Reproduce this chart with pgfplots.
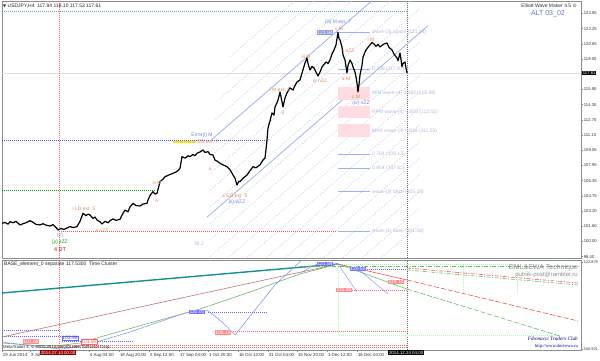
\documentclass[border=0pt]{standalone}
\usepackage{fontspec}
\setmainfont{Liberation Sans}
\newfontfamily\dejavu{DejaVu Sans}
\newfontfamily\seriffont{Liberation Serif}
\usepackage{pgfplots}
\pgfplotsset{compat=1.18}
\definecolor{wo}{HTML}{E88A55}
\definecolor{wb}{HTML}{7082DA}
\definecolor{fibc}{HTML}{AEB8E4}
\definecolor{chan}{HTML}{9FB0F2}
\definecolor{fam}{HTML}{C9CDE6}
\definecolor{pinkb}{HTML}{FFDCE2}
\definecolor{frm}{HTML}{8C8C8C}
\definecolor{teal2}{HTML}{139090}
\definecolor{redl}{HTML}{C87070}
\definecolor{grl}{HTML}{6CB86C}
\definecolor{bll}{HTML}{8C9CF0}
\begin{document}
\begin{tikzpicture}[x=1pt,y=1pt,
  lab/.style={font=\fontsize{5}{5.5}\selectfont, inner sep=0pt},
  wol/.style={lab, text=wo},
  wbl/.style={lab, text=wb},
  fibl/.style={lab, text=fibc, anchor=west},
  famline/.style={fam, dash pattern=on 1.6pt off 1.6pt, line width=0.5pt},
  dotl/.style={dash pattern=on 0.8pt off 1.2pt, line width=0.55pt},
]
\useasboundingbox (0,0) rectangle (600,361);
% ================= UPPER PANEL =================
\begin{axis}[at={(2pt,103pt)}, anchor=south west, scale only axis,
  width=579pt, height=257pt, xmin=2, xmax=581, ymin=98.264, ymax=125.136,
  clip=false, axis line style={frm, line width=0.6pt},
  xtick=\empty,
  ytick={98.40,100.00,101.60,103.20,104.75,106.35,107.95,109.55,111.10,112.70,114.30,115.90,119.05,120.65,122.25,123.85},
  ytick pos=right, yticklabel pos=right, tick align=outside,
  major tick length=2pt, tick style={frm, line width=0.4pt},
  yticklabel style={font=\fontsize{4.2}{5}\selectfont, text=black!80, inner xsep=0.7pt,
    /pgf/number format/.cd, fixed, fixed zerofill, precision=2, assume math mode=true},
]
% reference horizontal levels
\addplot[gray!25, line width=0.5pt] coordinates {(2,117.61) (581,117.61)};
\addplot[teal2!70, dotl] coordinates {(2,124.09) (407,124.09)};
\addplot[blue!70, dotl] coordinates {(2,110.60) (267,110.60)};
\addplot[green!60!black, dotl] coordinates {(2,105.37) (155,105.37)};
\addplot[red!70, dotl] coordinates {(59,101.08) (337,101.08)};
\addplot[red!60, dotl] coordinates {(59,98.264) (59,125.136)};
\addplot[black!60, dotl] coordinates {(407,98.264) (407,125.136)};
\addplot[yellow!90!orange, line width=1.3pt] coordinates {(173,110.40) (195,110.40)};
% dashed channel family
\addplot[famline] coordinates {(230,119.30) (294.5,125.136)};
\addplot[famline] coordinates {(225,117.10) (313.6,125.136)};
\addplot[famline] coordinates {(220,114.92) (332.8,125.136)};
\addplot[famline] coordinates {(215,112.74) (351.9,125.136)};
\addplot[famline] coordinates {(210,108.81) (390.3,125.136)};
\addplot[famline] coordinates {(210,107.07) (409.5,125.136)};
\addplot[famline] coordinates {(210,105.34) (420,124.35)};
\addplot[famline] coordinates {(210,103.60) (420,122.62)};
\addplot[famline] coordinates {(210,101.87) (420,120.88)};
\addplot[famline] coordinates {(210,100.13) (420,119.15)};
\addplot[famline] coordinates {(210,98.40) (420,117.41)};
\addplot[famline] coordinates {(227.7,98.264) (420,115.67)};
\addplot[famline] coordinates {(246.9,98.264) (420,113.94)};
\addplot[famline] coordinates {(266.1,98.264) (420,112.20)};
\addplot[famline] coordinates {(285.2,98.264) (420,110.47)};
\addplot[famline] coordinates {(304.4,98.264) (420,108.73)};
\addplot[famline] coordinates {(323.6,98.264) (420,107.00)};
\addplot[famline] coordinates {(342.8,98.264) (420,105.26)};
\addplot[famline] coordinates {(362,98.264) (420,103.53)};
\addplot[famline] coordinates {(381.2,98.264) (420,101.79)};
% solid channel lines
\addplot[chan, line width=0.8pt] coordinates {(207,102.53) (428,122.55)};
\addplot[chan, line width=0.8pt] coordinates {(210,110.50) (371.7,125.136)};
% fib target zones
\addplot[fill=pinkb, draw=none] coordinates {(338,116.13) (370,116.13) (370,114.78) (338,114.78)} -- cycle;
\addplot[fill=pinkb, draw=none] coordinates {(338,114.20) (370,114.20) (370,112.85) (338,112.85)} -- cycle;
\addplot[fill=pinkb, draw=none] coordinates {(338,112.23) (370,112.23) (370,110.88) (338,110.88)} -- cycle;
\addplot[chan, line width=0.6pt] coordinates {(336,121.84) (370,121.84)};
\addplot[chan, line width=0.6pt] coordinates {(338,117.97) (370,117.97)};
\addplot[chan, line width=0.6pt] coordinates {(338,109.12) (370,109.12)};
\addplot[chan, line width=0.6pt] coordinates {(338,107.62) (370,107.62)};
\addplot[chan, line width=0.6pt] coordinates {(338,105.19) (370,105.19)};
\addplot[chan, line width=0.6pt] coordinates {(338,101.08) (370,101.08)};
% price
\addplot[black, line width=1.2pt, line join=round] coordinates {
(2,101.89)(5,101.98)(8,101.80)(10,102.06)(13,101.95)(16,102.10)(20,101.72)(23,101.85)
(26,101.95)(30,102.16)(33,102.00)(36,101.78)(40,101.72)(43,101.85)(46,101.70)(50,101.61)
(53,101.75)(56,101.45)(58,101.19)(61,101.35)(64,101.25)(67,101.40)(70,101.55)(73,101.45)
(77,101.54)(80,102.10)(83,102.94)(86,102.70)(88,102.85)(90,102.76)(93,102.40)(95,102.55)
(97,102.24)(100,102.05)(102,101.82)(105,102.10)(108,101.95)(110,102.16)(113,102.35)(116,102.20)
(120,102.31)(122,102.75)(125,103.28)(128,103.10)(130,103.60)(133,103.98)(136,103.75)(140,103.70)
(143,103.90)(147,103.98)(148,104.33)(150,104.80)(153,105.20)(155,104.95)(157,105.03)(160,106.24)
(163,106.50)(165,106.76)(168,106.90)(170,107.00)(173,107.12)(176,107.25)(178,107.40)(180,107.64)
(182,108.86)(185,108.70)(188,108.95)(190,108.86)(193,109.10)(195,108.95)(197,109.21)(200,109.35)
(203,109.56)(205,109.30)(208,109.38)(210,109.10)(213,109.03)(215,108.50)(217,108.40)(220,108.17)
(223,108.00)(227,107.81)(230,107.50)(233,106.94)(235,106.60)(237,105.90)(239,106.30)(240,106.24)
(243,106.60)(247,106.94)(250,107.40)(253,107.81)(256,107.70)(260,107.99)(263,108.51)(265,108.72)
(266,109.60)(267,110.60)(268,111.86)(270,112.60)(272,113.43)(274,113.20)(275,114.05)(277,114.50)
(278,114.78)(280,115.62)(282,114.60)(283,114.05)(285,115.00)(287,115.52)(290,116.04)(293,115.83)
(295,116.30)(297,116.67)(300,116.88)(302,117.60)(305,118.65)(307,119.18)(308,118.60)(310,117.92)
(312,118.30)(314,118.13)(316,117.70)(318,117.29)(320,117.70)(322,118.24)(324,118.50)(326,118.76)
(328,118.60)(330,118.97)(332,119.60)(334,120.01)(336,120.54)(337,121.20)(338,121.84)(339,121.20)
(340,121.06)(342,120.33)(343,119.50)(345,118.97)(347,117.61)(348,118.40)(350,118.97)(352,118.60)
(353,118.24)(355,117.71)(356,117.20)(357,116.56)(358,115.62)(359,116.40)(360,117.40)(362,118.40)
(363,119.28)(365,119.80)(366,120.01)(368,120.30)(370,120.54)(372,120.80)(374,120.64)(376,120.40)
(378,120.60)(380,120.33)(382,120.50)(384,120.64)(387,120.74)(389,120.30)(392,120.01)(394,119.60)
(397,119.18)(398,118.90)(400,119.70)(401,119.00)(402,118.24)(403,118.60)(405,118.76)(406,118.10)
(407,117.61)};
% fib texts
\node[fibl] at (axis cs:372,121.84) {wave-(3) space (121.84)};
\node[fibl] at (axis cs:372,117.97) {0.236 (117.97)};
\node[fibl] at (axis cs:372,115.46) {MIN wave-(4) 0.382 (115.48)};
\node[fibl] at (axis cs:372,113.52) {RPM wave-(4) 0.500 (113.52)};
\node[fibl] at (axis cs:372,111.55) {MAX wave-(4) 0.618 (111.55)};
\node[fibl] at (axis cs:372,109.12) {0.764 (109.12)};
\node[fibl] at (axis cs:372,107.62) {0.854 (107.62)};
\node[fibl] at (axis cs:372,105.19) {wave-(3) base (105.19)};
\node[fibl] at (axis cs:372,101.08) {wave-(1) base (101.08)};
\node[lab, text=fibc] at (axis cs:199,99.73) {38.2};
% wave labels
\node[wbl] at (axis cs:60,100.67) {(c)};
\node[lab, text=green!60!black] at (axis cs:60,99.94) {[y] zZZ};
\node[lab, text=red!80!black, font=\fontsize{5.5}{6}\selectfont] at (axis cs:60,99.18) {4 DT};
\node[wol] at (axis cs:84,103.39) {i LD ext. 5};
\node[wol] at (axis cs:102,101.09) {ii aZZ};
\node[wol] at (axis cs:157,106.11) {iii M};
\node[wol] at (axis cs:157,104.23) {iv};
\node[wbl] at (axis cs:202,111.12) {Error(i) M};
\node[wol] at (axis cs:206,110.42) {v ED ext. 7};
\node[wol] at (axis cs:210,107.54) {a};
\node[wol] at (axis cs:235,104.75) {c ED ext. 5};
\node[wbl] at (axis cs:237,104.09) {(ii) wZZ};
\node[wol] at (axis cs:280,115.90) {i M ext. 5};
\node[wol] at (axis cs:283,113.46) {ii};
\node[wol] at (axis cs:306,119.31) {iii M};
\node[wol] at (axis cs:320,116.80) {iv nZZ};
\node[wbl] at (axis cs:338,122.87) {(iii) M ext. 7};
\node[wol] at (axis cs:339,122.18) {v M};
\node[lab, fill=wb!80, text=white, inner sep=0.6pt] at (axis cs:325,121.84) {121.84};
\node[wol] at (axis cs:348,119.91) {b nZZ};
\node[wol] at (axis cs:346,117.05) {a M};
\node[wol] at (axis cs:356,115.13) {c M};
\node[wbl] at (axis cs:361,114.44) {(iv) nZZ};
\node[wol] at (axis cs:371,121.13) {i M};
% headers
\node[lab, anchor=west, text=black!85] at (axis cs:3,124.64) {{\dejavu\fontsize{4}{5}\selectfont ▼} USDJPY,H4 \ 117.94 118.10 117.53 117.61};
\node[lab, anchor=east, text=black!80] at (axis cs:577,124.64) {Elliott Wave Maker 4.5 {\dejavu ⊙}};
\node[lab, anchor=east, text=wb!90!black, font=\fontsize{7}{8}\selectfont] at (axis cs:565,123.80) {ALT 03\_02};
\node[lab, anchor=west, fill=black, text=white, inner sep=0.7pt, font=\fontsize{4.2}{5}\selectfont] at (axis cs:582,117.61) {117.61};
\end{axis}
% ================= LOWER PANEL =================
\begin{axis}[at={(2pt,11pt)}, anchor=south west, scale only axis,
  width=579pt, height=90pt, xmin=2, xmax=581, ymin=100.67, ymax=123.38,
  clip=false, axis line style={frm, line width=0.6pt},
  ytick={100.921,122.879}, ytick pos=right, yticklabel pos=right, tick align=outside,
  major tick length=2pt, tick style={frm, line width=0.4pt},
  yticklabel style={font=\fontsize{3.9}{5}\selectfont, text=black!80, inner xsep=0.6pt,
    /pgf/number format/.cd, fixed, fixed zerofill, precision=3, assume math mode=true},
  xtick={2,30,89,119,149,179,208,238,268,297,327,357}, xtick pos=bottom,
  xticklabels={19 Jun 2014,3 Jul,4 Aug 04:00,18 Aug 20:00,2 Sep 12:00,17 Sep 04:00,1 Oct 20:00,16 Oct 12:00,31 Oct 04:00,15 Nov 20:00,1 Dec 12:00,16 Dec 04:00},
  xticklabel style={font=\fontsize{4.4}{5}\selectfont, text=black!80, anchor=north west, inner xsep=0.8pt, inner ysep=1pt},
]
\addplot[red!60, dotl] coordinates {(59,100.67) (59,123.38)};
\addplot[black!60, dotl] coordinates {(407,100.67) (407,123.38)};
% dotted levels
\addplot[blue!60, dotl] coordinates {(2,105.72) (60,105.72)};
\addplot[blue!60, dotl] coordinates {(2,104.20) (62,104.20)};
\addplot[blue!60, dotl] coordinates {(62,102.94) (133,102.94)};
\addplot[red!60, dotl] coordinates {(40,101.75) (407,101.75)};
\addplot[red!60, dotl] coordinates {(40,101.30) (407,101.30)};
\addplot[blue!60, dotl] coordinates {(208,110.26) (267,110.26)};
\addplot[red!60, dotl] coordinates {(233,105.34) (407,105.34)};
\addplot[red!60, dotl] coordinates {(352,115.81) (407,115.81)};
\addplot[blue!60, dotl] coordinates {(367,121.11) (407,121.11)};
% green dotted frames
\addplot[green!35, dotl] coordinates {(338,122.37) (338,104.45) (560,104.45)};
\addplot[green!35, dotl] coordinates {(338,122.37) (463,122.37) (463,115.31)};
\addplot[green!35, dotl] coordinates {(463,122.37) (517,122.37) (517,114.80)};
% curves
\addplot[teal2, line width=1.4pt] coordinates {(2,115.05) (338,122.37)};
\addplot[redl, line width=0.6pt] coordinates {(2,103.95) (338,122.37)};
\addplot[grl, line width=0.6pt] coordinates {(2,102.43) (30,101.93) (55,101.68) (80,102.43) (100,103.95) (150,107.49) (200,111.02) (250,115.31) (300,119.85) (338,122.37)};
\addplot[bll, line width=0.6pt] coordinates {(2,102.69) (40,101.42) (62,100.92) (90,102.18) (130,105.21) (185,110.01) (207,110.76) (222,107.74) (235,104.45) (255,110.76) (275,117.07) (302,123.38)};
\addplot[bll, line width=0.5pt] coordinates {(338,122.37) (357,115.30)};
\addplot[bll, line width=0.5pt] coordinates {(358,121.11) (388,114.80)};
\addplot[bll, line width=0.5pt] coordinates {(317,122.37) (300,120.10)};
% projections
\addplot[red!70, line width=0.6pt] coordinates {(338,122.37) (407,118.33)};
\addplot[red!70, line width=0.6pt, dash pattern=on 5pt off 2pt] coordinates {(407,118.33) (578,107.99)};
\addplot[grl, line width=0.6pt] coordinates {(338,122.37) (407,116.06)};
\addplot[grl, line width=0.6pt, dash pattern=on 5pt off 2pt] coordinates {(407,116.06) (560,104.20)};
\addplot[red!70, line width=0.6pt, dash pattern=on 4pt off 1.5pt on 1pt off 1.5pt] coordinates {(407,121.36) (578,117.58)};
\addplot[grl, line width=0.6pt, dash pattern=on 4pt off 1.5pt on 1pt off 1.5pt] coordinates {(407,120.86) (578,117.07)};
\addplot[grl, line width=0.6pt, dash pattern=on 4pt off 1.5pt on 1pt off 1.5pt] coordinates {(300,121.87) (578,121.87)};
% boxes
\node[lab, fill=blue!55, text=white, inner sep=0.6pt] at (axis cs:197,110.26) {110.00};
\node[lab, fill=red!45, text=white, inner sep=0.6pt] at (axis cs:223,105.13) {105.19};
\node[lab, draw=blue!60, fill=white, text=blue!70, inner sep=0.5pt] at (axis cs:70,103.70) {103.98};
\node[lab, fill=blue!55, text=white, inner sep=0.6pt] at (axis cs:325,122.37) {121.84};
\node[lab, fill=blue!55, text=white, inner sep=0.6pt] at (axis cs:358,121.11) {120.82};
\node[lab, fill=red!45, text=white, inner sep=0.6pt] at (axis cs:344,115.81) {115.98};
\node[lab, fill=red!45, text=white, inner sep=0.6pt] at (axis cs:396,117.83) {118.14};
% texts
\node[lab, anchor=west, text=black!85] at (axis cs:4,122.37) {BASE\_element\_0 separate 117.5300 \ Time Cluster};
\node[lab, anchor=west, text=black!85, font=\fontsize{4.3}{5}\selectfont] at (axis cs:3,101.30) {MetaTrader 4, © 2001-2014 MetaQuotes Software Corp.};
\node[lab, fill=red!45, text=white, inner sep=0.6pt] at (axis cs:31,102.78) {101.08};
\node[lab, draw=red!60, fill=white, text=red!70, inner sep=0.5pt] at (axis cs:89,102.78) {101.95};
\node[lab, anchor=east, text=black!45, font=\fontsize{7}{8}\selectfont] at (axis cs:578,121.36) {DML\&EWA Technique};
\node[lab, anchor=east, text=black!45, font=\fontsize{6}{7}\selectfont] at (axis cs:578,119.60) {putnik-post@rambler.ru};
\node[lab, anchor=east, text=blue!40!black, font=\seriffont\itshape\fontsize{5.2}{6}\selectfont] at (axis cs:578,103.44) {Fibonacci Traders Club};
\node[lab, anchor=east, text=blue!70!black, font=\seriffont\fontsize{4.6}{5}\selectfont] at (axis cs:578,101.55) {http://www.dml-ewa.ru};
% cursor time boxes
\node[lab, anchor=north west, fill=red!60!black, text=white, inner sep=0.8pt, font=\fontsize{4.4}{5}\selectfont] at (axis cs:40,100.60) {2014.07.14 00:00};
\node[lab, anchor=north west, fill=black, text=white, inner sep=0.8pt, font=\fontsize{4.4}{5}\selectfont] at (axis cs:388,100.60) {2014.12.24 04:00};
\end{axis}
\end{tikzpicture}
\end{document}
